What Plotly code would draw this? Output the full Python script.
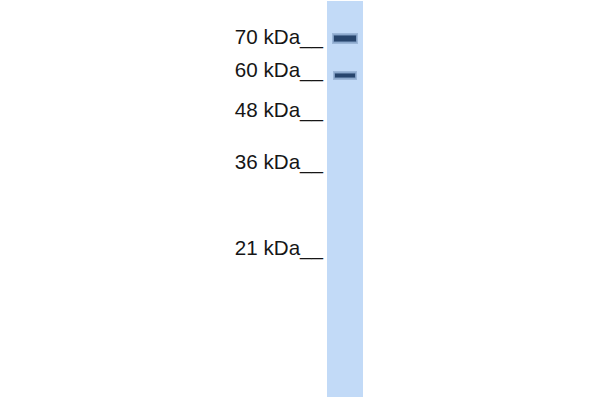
import plotly.graph_objs as go

# marker ladder (label text, migration in px from top of blot)
marker_labels = ["70 kDa", "60 kDa", "48 kDa", "36 kDa", "21 kDa"]
marker_migration = [36.5, 70, 110, 161.5, 247.5]

# the one sample lane and its two bands
lane_center = 345
lane_top = 1
lane_bottom = 397
band_migration = [38.5, 75.5]
band_left = [332, 333]
band_right = [358, 357]

lane_color = "rgb(194,218,247)"
band_color = "rgba(30,60,100,0.9)"
band_glow = "rgba(55,90,135,0.28)"
band_core_width = [6, 4]

fig = go.Figure()

# lane
fig.add_trace(go.Bar(
    x=[lane_center],
    y=[lane_bottom - lane_top],
    base=[lane_top],
    width=36,
    marker=dict(color=lane_color, line=dict(width=0)),
    hoverinfo="skip",
    showlegend=False
))

# bands: soft halo first, then the dark core
for y, x0, x1, w in zip(band_migration, band_left, band_right, band_core_width):
    fig.add_trace(go.Scatter(
        x=[x0, x1], y=[y, y], mode="lines",
        line=dict(color=band_glow, width=w + 5),
        hoverinfo="skip", showlegend=False
    ))
    fig.add_trace(go.Scatter(
        x=[x0 + 1, x1 - 1], y=[y, y], mode="lines",
        line=dict(color=band_glow, width=w + 2),
        hoverinfo="skip", showlegend=False
    ))
    fig.add_trace(go.Scatter(
        x=[x0 + 2, x1 - 2], y=[y, y], mode="lines",
        line=dict(color=band_color, width=w),
        hoverinfo="skip", showlegend=False
    ))

fig.update_layout(
    width=600, height=400,
    margin=dict(l=0, r=0, t=0, b=0),
    paper_bgcolor="white",
    plot_bgcolor="white",
    hovermode=False,
    xaxis=dict(range=[0, 600], visible=False, fixedrange=True),
    yaxis=dict(
        range=[400, 0],
        anchor="free",
        position=323 / 600,
        fixedrange=True,
        tickvals=marker_migration,
        ticktext=[t + "__" for t in marker_labels],
        ticks="",
        showline=False,
        showgrid=False,
        zeroline=False,
        tickfont=dict(family="Liberation Sans, Arial", size=20.6, color="#161616"),
    ),
    font=dict(family="Liberation Sans, Arial")
)

# drop the default 8px page margin so the figure sits at the window corner
fig.write_html("out.html", config={"displayModeBar": False},
               post_script="document.body.style.margin='0';")
